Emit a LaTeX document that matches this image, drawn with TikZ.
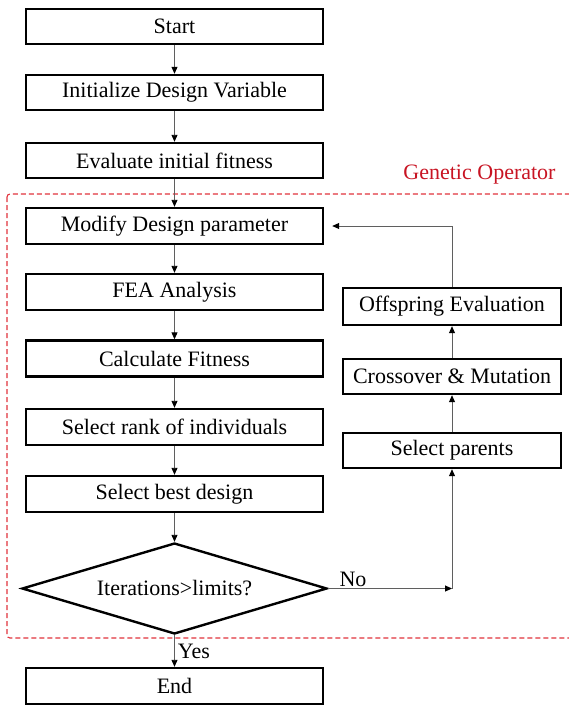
\documentclass[tikz,border=0pt]{standalone}
\usepackage{fontspec}
\setmainfont{Liberation Serif}
\usetikzlibrary{shapes.geometric,arrows.meta}
\definecolor{gored}{RGB}{200,20,35}
\definecolor{dashred}{RGB}{225,50,60}
\definecolor{conn}{RGB}{95,95,95}
\begin{document}
\begin{tikzpicture}[x=1pt,y=-1pt,
  every node/.style={font=\fontsize{22}{24}\selectfont},
  box/.style={draw=black,line width=2.4pt,minimum height=35pt,inner sep=0pt,anchor=center},
  lbox/.style={box,minimum width=297pt},
  rbox/.style={box,minimum width=218pt},
  dia/.style={draw=black,line width=2.4pt,diamond,aspect=3.35,minimum width=305pt,minimum height=91pt,inner sep=0pt},
  conn/.style={draw=conn,line width=0.9pt,-{Triangle[length=7pt,width=6pt,fill=black,color=black]}}
  ]
\useasboundingbox (0,0) rectangle (568,706);
% dashed frame
\draw[dashred,line width=1.1pt,dash pattern=on 5pt off 3pt,rounded corners=3pt] (7,194) rectangle (580,638);
\node[text=gored] (go) at (479.5,175) {Genetic Operator};
% left column
\node[lbox] (start) at (174.5,26.5) {Start};
\node[lbox] (init) at (174.5,92.5) {Initialize Design Variable};
\node[lbox] (eval) at (174.5,160.5) {Evaluate initial fitness};
\node[lbox,minimum height=36pt] (mod) at (174.5,226) {Modify Design parameter};
\node[lbox,minimum height=36pt] (fea) at (174.5,292) {FEA Analysis};
\node[lbox,minimum height=36pt] (calc) at (174.5,358.5) {Calculate Fitness};
\node[lbox,minimum height=36pt] (rank) at (174.5,427) {Select rank of individuals};
\node[lbox,minimum height=36pt] (best) at (174.5,494) {Select best design};
\node[dia] (iter) at (174.5,588.5) {Iterations>limits?};
\node[lbox,minimum height=36pt] (end) at (174.5,686) {End};
% right column
\node[rbox,minimum height=37pt] (off) at (452,306.5) {Offspring Evaluation};
\node[rbox] (cross) at (452,376.5) {Crossover \& Mutation};
\node[rbox] (par) at (452,450.5) {Select parents};
\coordinate (corner) at (452,588.5);
% connectors
\draw[conn] (start) -- (init);
\draw[conn] (init) -- (eval);
\draw[conn] (eval) -- (mod);
\draw[conn] (mod) -- (fea);
\draw[conn] (fea) -- (calc);
\draw[conn] (calc) -- (rank);
\draw[conn] (rank) -- (best);
\draw[conn] (best) -- (iter);
\draw[conn] (iter) -- node[pos=0.5,right=3pt,inner sep=0pt] (yes) {Yes} (end);
\draw[conn] (iter.east) -- node[pos=0.2,above=1pt,inner sep=0pt] (no) {No} (corner);
\draw[conn] (corner) -- (par);
\draw[conn] (par) -- (cross);
\draw[conn] (cross) -- (off);
\draw[conn,shorten >=8pt] (off.north) |- (mod.east);
\end{tikzpicture}
\end{document}
